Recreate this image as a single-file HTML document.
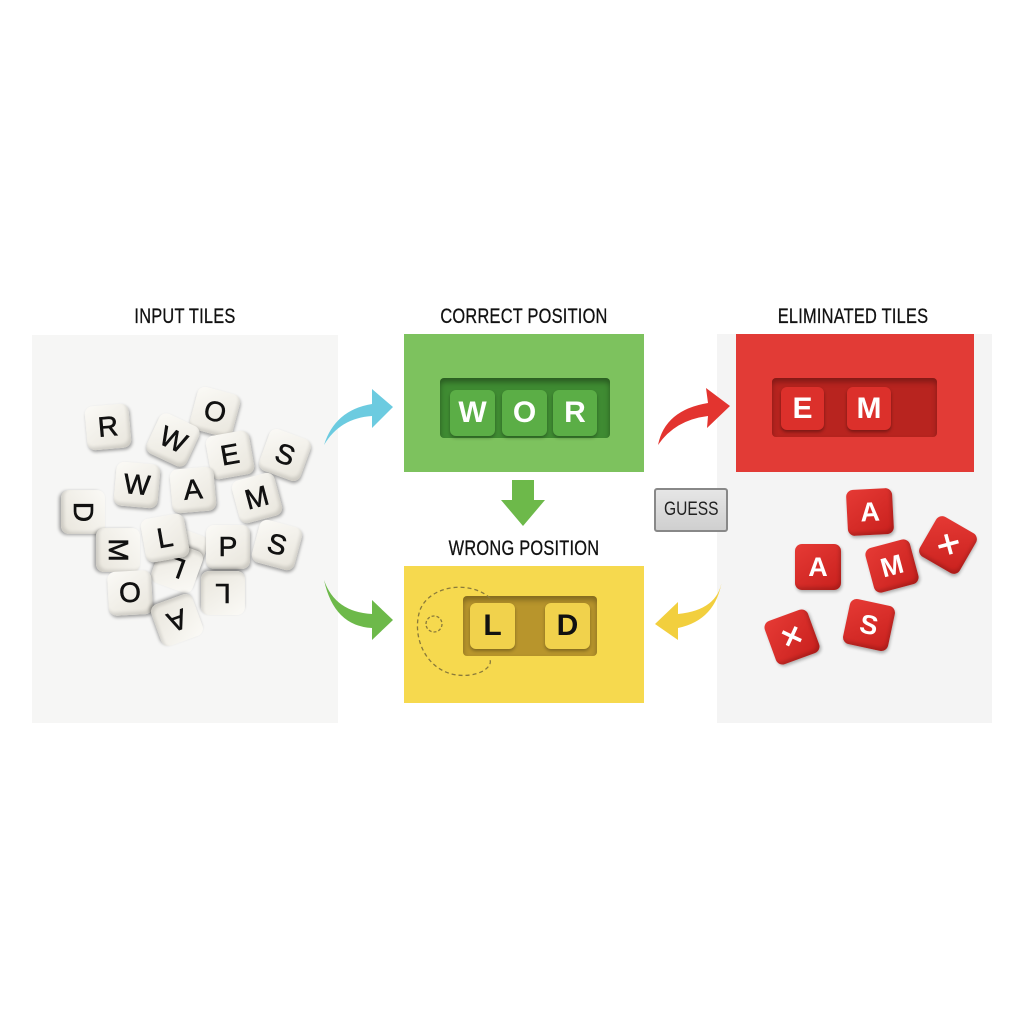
<!DOCTYPE html>
<html><head><meta charset="utf-8"><style>
body{margin:0;width:1024px;height:1024px;background:#fff;position:relative;overflow:hidden;font-family:"Liberation Sans",sans-serif}
.abs{position:absolute}
.title{position:absolute;font-size:21px;color:#111;transform:translateX(-50%) scaleX(0.78);white-space:nowrap;top:305px;letter-spacing:0.3px;-webkit-text-stroke:0.3px #111}
.t{position:absolute;width:44px;height:44px;border-radius:8px;background:linear-gradient(145deg,#fbfaf6,#e8e5dc);box-shadow:1px 2px 3px rgba(0,0,0,.35),inset -2px -3px 3px rgba(0,0,0,.12);color:#111;font-weight:normal;font-size:28px;line-height:44px;text-align:center;-webkit-text-stroke:0.6px #111}
.r{position:absolute;width:46px;height:46px;border-radius:7px;background:linear-gradient(145deg,#e63a35,#c8201d);box-shadow:1px 2px 3px rgba(0,0,0,.3),inset -2px -3px 3px rgba(0,0,0,.15);color:#fff;font-weight:bold;font-size:27px;line-height:46px;text-align:center}
.k{position:absolute;border-radius:6px;font-weight:bold;font-size:30px;text-align:center}
</style></head><body>
<div class="title" style="left:185px">INPUT TILES</div>
<div class="title" style="left:524px">CORRECT POSITION</div>
<div class="title" style="left:853px">ELIMINATED TILES</div>
<div class="title" style="left:524px;top:537px">WRONG POSITION</div>

<div class="abs" style="left:32px;top:335px;width:306px;height:388px;background:#f6f6f5"></div>
<div class="abs" style="left:717px;top:334px;width:275px;height:389px;background:#f4f4f4"></div>

<div class="t" style="left:86px;top:405px;transform:rotate(-5deg)">R</div>
<div class="t" style="left:193px;top:390px;transform:rotate(15deg)">O</div>
<div class="t" style="left:151px;top:418px;transform:rotate(25deg)">W</div>
<div class="t" style="left:208px;top:433px;transform:rotate(-10deg)">E</div>
<div class="t" style="left:263px;top:433px;transform:rotate(20deg)">S</div>
<div class="t" style="left:160px;top:530px;transform:rotate(20deg)"></div>
<div class="t" style="left:115px;top:463px;transform:rotate(5deg)">W</div>
<div class="t" style="left:171px;top:468px;transform:rotate(-5deg)">A</div>
<div class="t" style="left:235px;top:476px;transform:rotate(-15deg)">M</div>
<div class="t" style="left:61px;top:490px;transform:rotate(90deg)">D</div>
<div class="t" style="left:155px;top:545px;transform:rotate(200deg)">L</div>
<div class="t" style="left:96px;top:528px;transform:rotate(90deg)">M</div>
<div class="t" style="left:143px;top:516px;transform:rotate(-10deg)">L</div>
<div class="t" style="left:206px;top:525px;transform:rotate(0deg)">P</div>
<div class="t" style="left:255px;top:523px;transform:rotate(15deg)">S</div>
<div class="t" style="left:108px;top:571px;transform:rotate(-3deg)">O</div>
<div class="t" style="left:201px;top:571px;transform:rotate(180deg)">L</div>
<div class="t" style="left:155px;top:598px;transform:rotate(160deg)">A</div>

<div class="abs" style="left:404px;top:334px;width:240px;height:138px;background:#7dc25e"></div>
<div class="abs" style="left:440px;top:378px;width:170px;height:60px;background:#3f8b32;border-radius:4px;box-shadow:inset 0 4px 6px rgba(0,0,0,.35)"></div>
<div class="k" style="left:450px;top:390px;width:45px;height:46px;line-height:46px;background:#5bae46;color:#fff;box-shadow:0 2px 3px rgba(0,0,0,.3)">W</div>
<div class="k" style="left:502px;top:390px;width:45px;height:46px;line-height:46px;background:#5bae46;color:#fff;box-shadow:0 2px 3px rgba(0,0,0,.3)">O</div>
<div class="k" style="left:553px;top:390px;width:44px;height:46px;line-height:46px;background:#5bae46;color:#fff;box-shadow:0 2px 3px rgba(0,0,0,.3)">R</div>

<div class="abs" style="left:404px;top:566px;width:240px;height:137px;background:#f6d94e"></div>
<div class="abs" style="left:463px;top:596px;width:134px;height:60px;background:#b8952c;border-radius:4px;box-shadow:inset 0 4px 6px rgba(0,0,0,.3)"></div>
<div class="k" style="left:470px;top:603px;width:45px;height:46px;line-height:46px;background:#f1d24c;color:#111;box-shadow:0 2px 3px rgba(0,0,0,.3)">L</div>
<div class="k" style="left:545px;top:603px;width:45px;height:46px;line-height:46px;background:#f1d24c;color:#111;box-shadow:0 2px 3px rgba(0,0,0,.3)">D</div>

<div class="abs" style="left:736px;top:334px;width:238px;height:138px;background:#e23b36"></div>
<div class="abs" style="left:772px;top:378px;width:165px;height:59px;background:#b8241f;border-radius:4px;box-shadow:inset 0 4px 6px rgba(0,0,0,.3)"></div>
<div class="k" style="left:781px;top:387px;width:43px;height:43px;line-height:43px;background:#dc302b;color:#fff;box-shadow:0 2px 3px rgba(0,0,0,.35)">E</div>
<div class="k" style="left:847px;top:387px;width:44px;height:43px;line-height:43px;background:#dc302b;color:#fff;box-shadow:0 2px 3px rgba(0,0,0,.35)">M</div>

<div class="r" style="left:847px;top:489px;transform:rotate(-3deg)">A</div>
<div class="r" style="left:795px;top:544px">A</div>
<div class="r" style="left:869px;top:543px;transform:rotate(-15deg)">M</div>
<div class="r" style="left:925px;top:522px;transform:rotate(30deg)">✕</div>
<div class="r" style="left:769px;top:614px;transform:rotate(-20deg)">✕</div>
<div class="r" style="left:846px;top:602px;transform:rotate(12deg)">S</div>

<div class="abs" style="left:654px;top:488px;width:70px;height:40px;background:linear-gradient(#e6e6e6,#cfcfcf);border:2px solid #888;border-radius:3px;font-size:19px;line-height:40px;text-align:center;color:#222"><span style="display:inline-block;transform:scaleX(0.82)">GUESS</span></div>

<svg class="abs" style="left:0;top:0" width="1024" height="1024">
<path d="M324,445 Q335,410 372,404 L372,389 L393,407 L372,428 L372,416 Q340,418 324,445 Z" fill="#6ccbe0"/>
<path d="M324,580 Q335,612 372,614 L372,600 L393,620 L372,640 L372,628 Q334,626 324,580 Z" fill="#6db94a"/>
<path d="M658,445 Q665,410 708,403 L706,388 L730,406 L707,428 L708,416 Q675,420 658,445 Z" fill="#e3342f"/>
<path d="M722,580 Q718,610 678,614 L678,602 L655,624 L678,640 L678,628 Q716,620 722,580 Z" fill="#f2cf3e"/>
<path d="M512,480 L534,480 L534,500 L545,500 L523,526 L501,500 L512,500 Z" fill="#6db94a"/>
<path d="M490,598 C470,580 430,585 420,610 C410,640 430,680 470,675 C485,673 492,665 490,660" fill="none" stroke="#8a7a3a" stroke-width="1.3" stroke-dasharray="4,3"/>
<circle cx="434" cy="624" r="8" fill="none" stroke="#8a7a3a" stroke-width="1.3" stroke-dasharray="3,2"/>
</svg>
</body></html>
